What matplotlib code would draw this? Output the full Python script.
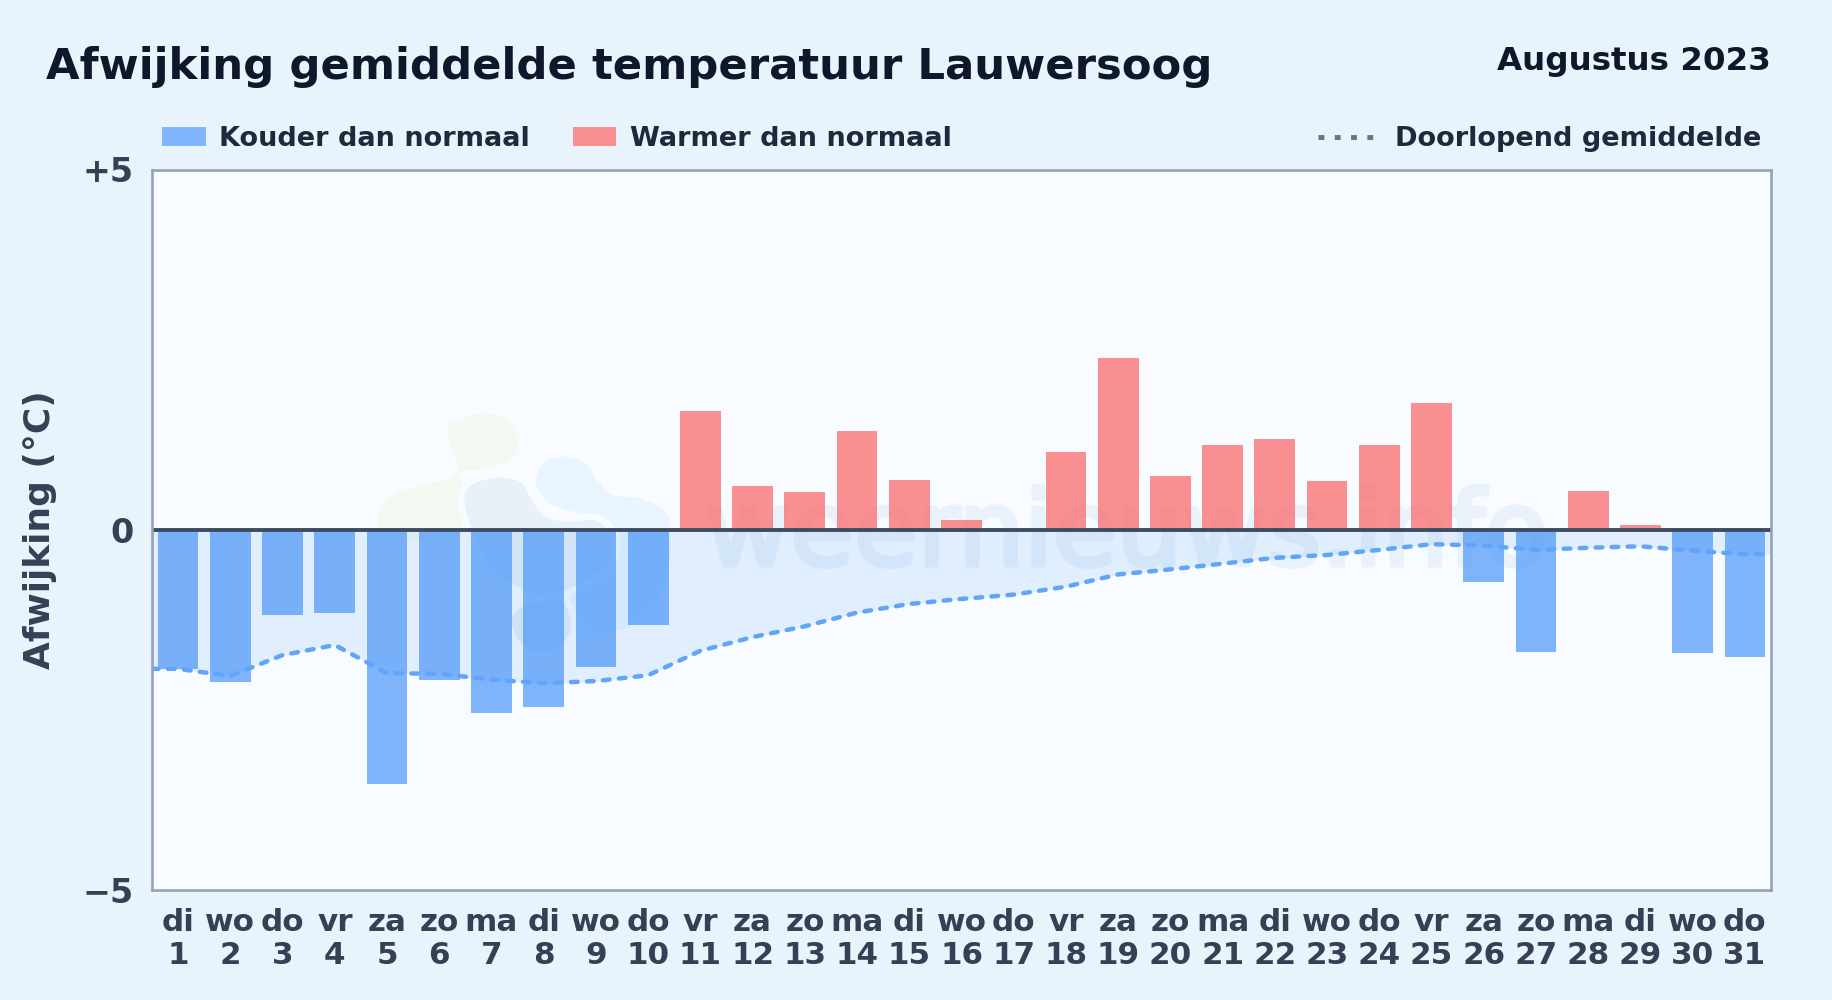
import numpy as np
import matplotlib
matplotlib.use("Agg")
import matplotlib.pyplot as plt
import matplotlib.patheffects as pe
from matplotlib.patches import PathPatch, Rectangle
from matplotlib.path import Path
from matplotlib.lines import Line2D
from matplotlib.transforms import Affine2D

days = list(range(1, 32))
weekdays = ["di","wo","do","vr","za","zo","ma","di","wo","do","vr","za","zo","ma","di","wo",
            "do","vr","za","zo","ma","di","wo","do","vr","za","zo","ma","di","wo","do"]
deviation = [-1.93,-2.12,-1.18,-1.16,-3.53,-2.09,-2.54,-2.46,-1.90,-1.32,1.65,0.61,0.53,1.37,0.69,0.14,
             0.0,1.08,2.39,0.74,1.18,1.26,0.67,1.18,1.76,-0.73,-1.69,0.54,0.06,-1.71,-1.76]
running_mean = [-1.93,-2.03,-1.74,-1.60,-1.99,-2.00,-2.08,-2.13,-2.10,-2.02,-1.68,-1.49,-1.34,-1.15,-1.03,-0.96,
                -0.90,-0.79,-0.62,-0.55,-0.47,-0.39,-0.35,-0.28,-0.20,-0.22,-0.28,-0.25,-0.23,-0.29,-0.34]
title = "Afwijking gemiddelde temperatuur Lauwersoog"
period = "Augustus 2023"
ytick_values = [-5, 0, 5]
ytick_labels = ["\u22125", "0", "+5"]

W, H = 1832, 1000
BG = "#e8f3fc"
COLD = "#3f8ff8"
WARM = "#fa5657"
LINE = "#60a5fa"
FACE = "#f8fbff"

plt.rcParams["font.family"] = "DejaVu Sans"
fig = plt.figure(figsize=(W/100, H/100), dpi=100, facecolor=BG)
L, R, T, B = 152, 1771, 169.5, 890
ax = fig.add_axes([L/W, 1-B/H, (R-L)/W, (B-T)/H], facecolor=FACE)
ax.set_xlim(0.5, 31.5)
ax.set_ylim(-5, 5)
for s in ax.spines.values():
    s.set_color("#94a3b8")
    s.set_linewidth(1.9)
    s.set_zorder(6)

px = Affine2D().scale(1, -1).translate(0, H)  # figure pixels, y downwards

def blob(pts, color, zorder=1, halo=None):
    """Smooth closed outline (decorative logo), points from the watermark crop."""
    pts = np.array([(360 + x/3, 400 + y/3) for x, y in pts], float)
    n = len(pts)
    verts = [pts[0]]
    codes = [Path.MOVETO]
    for i in range(n):
        p0, p1, p2, p3 = pts[i-1], pts[i], pts[(i+1) % n], pts[(i+2) % n]
        verts += [p1 + (p2-p0)/6, p2 - (p3-p1)/6, p2]
        codes += [Path.CURVE4]*3
    ax.add_patch(PathPatch(Path(verts, codes), fc=color, ec=halo if halo else "none",
                           lw=5 if halo else 0, transform=px, zorder=zorder))

blob([(265,100),(300,60),(370,40),(440,60),(475,130),(450,180),(370,205),(300,215),(255,240),
      (130,270),(70,310),(55,350),(75,400),(180,420),(300,400),(320,300)], "#f3f9f0", 1.0)
blob([(530,230),(560,185),(620,170),(680,195),(710,240),(760,285),(840,295),(910,330),(930,385),
      (925,500),(880,620),(780,690),(680,690),(630,600),(680,550),(750,500),(775,430),(750,370),
      (690,345),(620,330),(570,310),(535,270)], "#e9f5fe", 1.1)
blob([(305,280),(340,240),(420,222),(490,240),(520,290),(560,340),(620,355),(700,350),(750,380),
      (770,430),(750,500),(680,550),(600,585),(520,590),(420,540),(350,450),(310,340)],
     "#e8f0f8", 1.2, halo=FACE)
blob([(450,640),(500,605),(600,590),(640,650),(630,720),(570,765),(490,750),(450,690)],
     "#e3edf6", 1.3, halo=FACE)

WM = "#e9f1fa"
ax.text((700+1553)/2/W, 1-565/H, "weernieuws.info", transform=fig.transFigure, ha="center", va="baseline",
        fontsize=74.6, color=WM, zorder=1.5,
        path_effects=[pe.withStroke(linewidth=3.5, foreground=WM)])

edge_x = [0.5] + days + [31.5]
edge_y = [running_mean[0]] + running_mean + [running_mean[-1]]
ax.fill_between(edge_x, edge_y, 0, color="#3b96f6", alpha=0.12, lw=0, zorder=2)
ax.bar(days, deviation, width=0.78, color=[COLD if v < 0 else WARM for v in deviation],
       zorder=3, alpha=0.65, lw=0)
ax.plot(edge_x, edge_y, color=LINE, lw=3.2, dashes=(1.5, 2.1), dash_capstyle="round", zorder=4)
ax.axhline(0, color="#3d4c60", lw=2.8, zorder=5)

ax.set_xticks(days)
ax.set_xticklabels([f"{w}\n{d}" for w, d in zip(weekdays, days)], fontsize=22.3, fontweight="bold",
                   color="#334155", linespacing=1.17)
ax.set_yticks(ytick_values)
ax.set_yticklabels(ytick_labels, fontsize=24, fontweight="bold", color="#334155")
ax.tick_params(axis="both", length=0)
ax.tick_params(axis="x", pad=13)
ax.tick_params(axis="y", pad=13)

fig.text(40/W, 1-530/H, "Afwijking (\u00b0C)", rotation=90, ha="center", va="center", fontsize=25.9,
         fontweight="bold", color="#334155")
fig.text(46.5/W, 1-79/H, title, ha="left", va="baseline", fontsize=31.2, fontweight="bold", color="#0f172a")
fig.text(1771/W, 1-70/H, period, ha="right", va="baseline", fontsize=23.4, fontweight="bold", color="#0f172a")

LEG_COLD = "#80b6fb"
LEG_WARM = "#f99092"
fig.add_artist(Rectangle((162/W, 1-146/H), 44/W, 19/H, fc=LEG_COLD, lw=0, transform=fig.transFigure))
fig.text(219/W, 1-146/H, "Kouder dan normaal", ha="left", va="baseline", fontsize=19.5, fontweight="bold", color="#1e293b")
fig.add_artist(Rectangle((573/W, 1-146/H), 43/W, 19/H, fc=LEG_WARM, lw=0, transform=fig.transFigure))
fig.text(630/W, 1-146/H, "Warmer dan normaal", ha="left", va="baseline", fontsize=19.5, fontweight="bold", color="#1e293b")
fig.add_artist(Line2D([1318/W, 1374/W], [1-137/H, 1-137/H], color="#64748b", lw=3.5, dashes=(1.2, 2.15),
                      transform=fig.transFigure))
fig.text(1395/W, 1-146/H, "Doorlopend gemiddelde", ha="left", va="baseline", fontsize=19.5, fontweight="bold", color="#1e293b")

fig.savefig("out.png", dpi=100, facecolor=BG)
